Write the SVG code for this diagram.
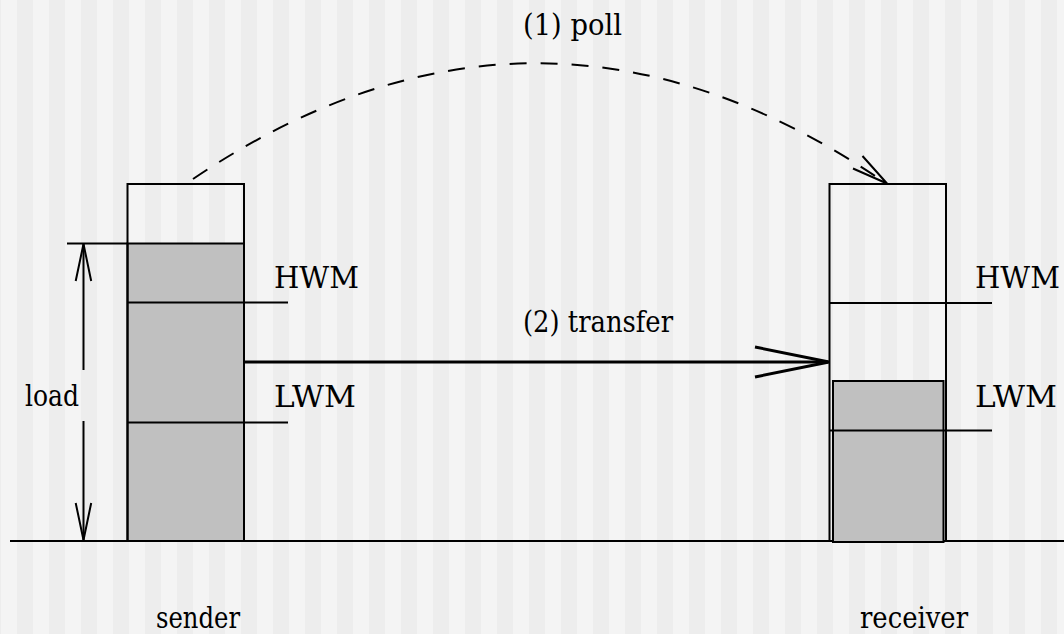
<svg xmlns="http://www.w3.org/2000/svg" width="1064" height="634" viewBox="0 0 1064 634">
<defs>
<pattern id="stripes" x="1" y="0" width="32" height="634" patternUnits="userSpaceOnUse">
<rect x="0" y="0" width="16" height="634" fill="#f4f4f4"/>
<rect x="16" y="0" width="16" height="634" fill="#ededed"/>
</pattern>
</defs>
<style>
.box{fill:none;stroke:#000;stroke-width:2}
.gray{fill:#c0c0c0;stroke:#000;stroke-width:2}
.ln{stroke:#000;stroke-width:2;fill:none}
.thick{stroke:#000;stroke-width:3;fill:none}
.dash{stroke:#000;stroke-width:2;fill:none;stroke-dasharray:17 14}
.t{font-family:'DejaVu Serif','Liberation Serif',serif;font-size:30px;fill:#000}
</style>
<rect x="0" y="0" width="1064" height="634" fill="url(#stripes)"/>
<g id="ground">
<line class="ln" x1="10" y1="541" x2="1064" y2="541"/>
</g>
<g id="sender">
<rect class="gray" x="127.5" y="243.5" width="116.5" height="297.5"/>
<rect class="box" x="127.5" y="184" width="116.5" height="357"/>
<line class="ln" x1="127.5" y1="302.5" x2="288" y2="302.5"/>
<line class="ln" x1="127.5" y1="422.5" x2="288" y2="422.5"/>
<text class="t" x="274" y="288" textLength="85" lengthAdjust="spacingAndGlyphs">HWM</text>
<text class="t" x="274" y="407" textLength="82" lengthAdjust="spacingAndGlyphs">LWM</text>
<text class="t" x="156" y="628" textLength="84" lengthAdjust="spacingAndGlyphs">sender</text>
</g>
<g id="receiver">
<rect class="box" x="829.5" y="184" width="116.5" height="357"/>
<rect class="gray" x="833" y="381" width="110.5" height="161"/>
<line class="ln" x1="829.5" y1="303" x2="992" y2="303"/>
<line class="ln" x1="829.5" y1="430.5" x2="992" y2="430.5"/>
<text class="t" x="975" y="288" textLength="85" lengthAdjust="spacingAndGlyphs">HWM</text>
<text class="t" x="975" y="407" textLength="82" lengthAdjust="spacingAndGlyphs">LWM</text>
<text class="t" x="860" y="628" textLength="108" lengthAdjust="spacingAndGlyphs">receiver</text>
</g>
<g id="load">
<line class="ln" x1="67" y1="243.5" x2="127.5" y2="243.5"/>
<text class="t" x="25" y="406" textLength="54" lengthAdjust="spacingAndGlyphs">load</text>
</g>
<g id="connectors">
<path class="dash" d="M193,179 Q540,-55 887,184"/>
<path class="ln" d="M853,168.5 L887,183.5 L862.5,156"/>
<line class="thick" x1="244" y1="362" x2="828" y2="362"/>
<path class="thick" d="M755,347 L829,362 L755,377"/>
<line class="ln" x1="83.5" y1="244" x2="83.5" y2="370"/>
<line class="ln" x1="83.5" y1="421" x2="83.5" y2="540"/>
<path class="ln" d="M75.7,281 L83.5,244 L91.2,281"/>
<path class="ln" d="M75.7,503 L83.5,540 L91.2,503"/>
</g>
<text class="t" x="523" y="35" textLength="99" lengthAdjust="spacingAndGlyphs">(1) poll</text>
<text class="t" x="523" y="332" textLength="150" lengthAdjust="spacingAndGlyphs">(2) transfer</text>
</svg>
